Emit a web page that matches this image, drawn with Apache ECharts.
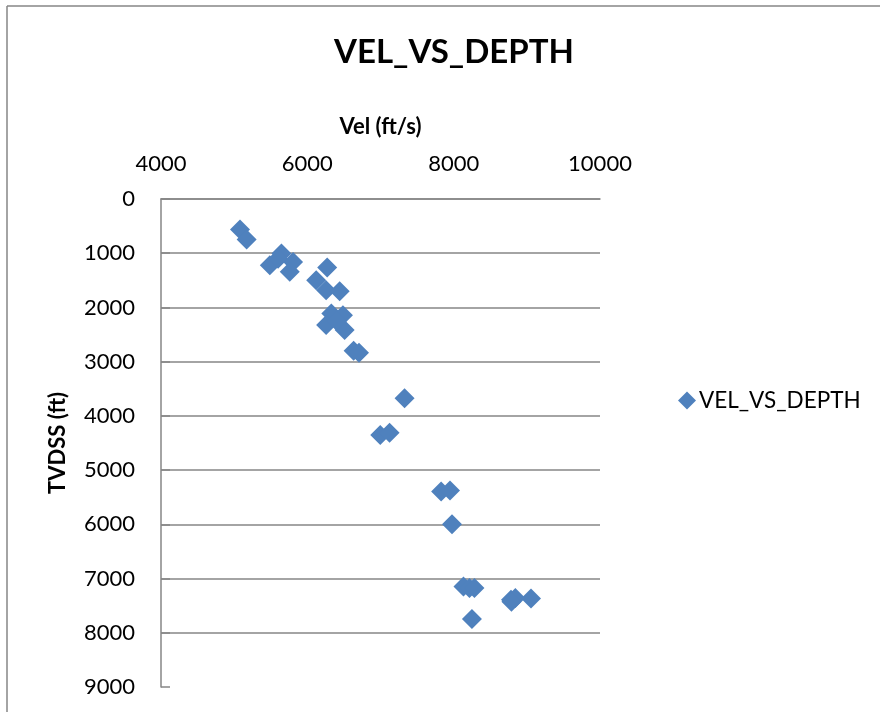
<!DOCTYPE html>
<html>
<head>
<meta charset="utf-8">
<script src="https://cdn.jsdelivr.net/npm/echarts@6/dist/echarts.min.js"></script>
<style>
html,body{margin:0;padding:0;background:#fff;}
#main{width:880px;height:712px;}
</style>
</head>
<body>
<div id="main"></div>
<script>
const chartTitle = 'VEL_VS_DEPTH';
const seriesName = 'VEL_VS_DEPTH';
const xAxisName = 'Vel (ft/s)';
const yAxisName = 'TVDSS (ft)';
const velocity = [5080, 5170, 5646, 5805, 5487, 5760, 5600, 6271, 6121, 6257, 6442, 6328, 6487, 6257, 6510, 6400, 6633, 6706, 7329, 6997, 7124, 7829, 7950, 7977, 8134, 8216, 8284, 8784, 8843, 9057, 8790, 8250];
const depth = [564, 748, 1006, 1160, 1221, 1344, 1100, 1264, 1497, 1681, 1700, 2111, 2142, 2326, 2418, 2250, 2799, 2836, 3676, 4352, 4309, 5396, 5378, 5997, 7145, 7175, 7175, 7391, 7359, 7366, 7430, 7746];

const FONT = 'Lato, "Noto Sans", sans-serif';
const chart = echarts.init(document.getElementById('main'));
const points = velocity.map((v, i) => [v, depth[i]]);
const gridColors = ['#868686','#868686','#868686','#868686','#868686','#868686','#868686','#868686','#868686','rgba(0,0,0,0)'];
const plain = v => String(v);

chart.setOption({
  animation: false,
  backgroundColor: '#fff',
  textStyle: { fontFamily: FONT },
  title: {
    text: chartTitle,
    left: 449, textAlign: 'center',
    top: 31,
    textStyle: { fontFamily: FONT, fontWeight: 'bold', fontSize: 33, color: '#000' }
  },
  legend: {
    data: [seriesName],
    left: 673, top: 384,
    itemWidth: 18, itemHeight: 18, itemGap: 6,
    icon: 'diamond',
    textStyle: { fontFamily: FONT, fontSize: 22.5, color: '#000', padding: [0,0,0,-2] }
  },
  grid: { left: 161, top: 199, right: 280, bottom: 25, containLabel: false },
  xAxis: {
    type: 'value', position: 'top',
    min: 4000, max: 10000, interval: 2000,
    name: xAxisName, nameLocation: 'middle', nameGap: 61,
    nameTextStyle: { fontFamily: FONT, fontWeight: 'bold', fontSize: 22, color: '#000' },
    axisLine: { show: true, lineStyle: { color: '#868686', width: 1.5 } },
    axisTick: { show: false },
    axisLabel: { fontFamily: FONT, fontSize: 22, color: '#000', margin: 24, formatter: plain },
    splitLine: { show: false }
  },
  yAxis: {
    type: 'value', inverse: true,
    min: 0, max: 9000, interval: 1000,
    name: yAxisName, nameLocation: 'middle', nameGap: 92, nameRotate: 90,
    nameTextStyle: { fontFamily: FONT, fontWeight: 'bold', fontSize: 22, color: '#000' },
    axisLine: { show: true, lineStyle: { color: '#868686', width: 1.5 } },
    axisTick: { show: true, inside: true, length: 9, lineStyle: { color: '#868686', width: 1.5 } },
    axisLabel: { fontFamily: FONT, fontSize: 22, color: '#000', margin: 26, formatter: plain },
    splitLine: { show: true, lineStyle: { color: gridColors, width: 1.5 } }
  },
  graphic: [
    { type: 'line', shape: { x1: 7, y1: 6, x2: 880, y2: 6 }, style: { stroke: '#868686', lineWidth: 1.5 } },
    { type: 'line', shape: { x1: 7, y1: 6, x2: 7, y2: 712 }, style: { stroke: '#868686', lineWidth: 1.5 } }
  ],
  series: [{
    name: seriesName,
    type: 'scatter',
    symbol: 'diamond',
    symbolSize: 20,
    itemStyle: { color: '#4F81BD', opacity: 1 },
    data: points
  }]
});
</script>
</body>
</html>
